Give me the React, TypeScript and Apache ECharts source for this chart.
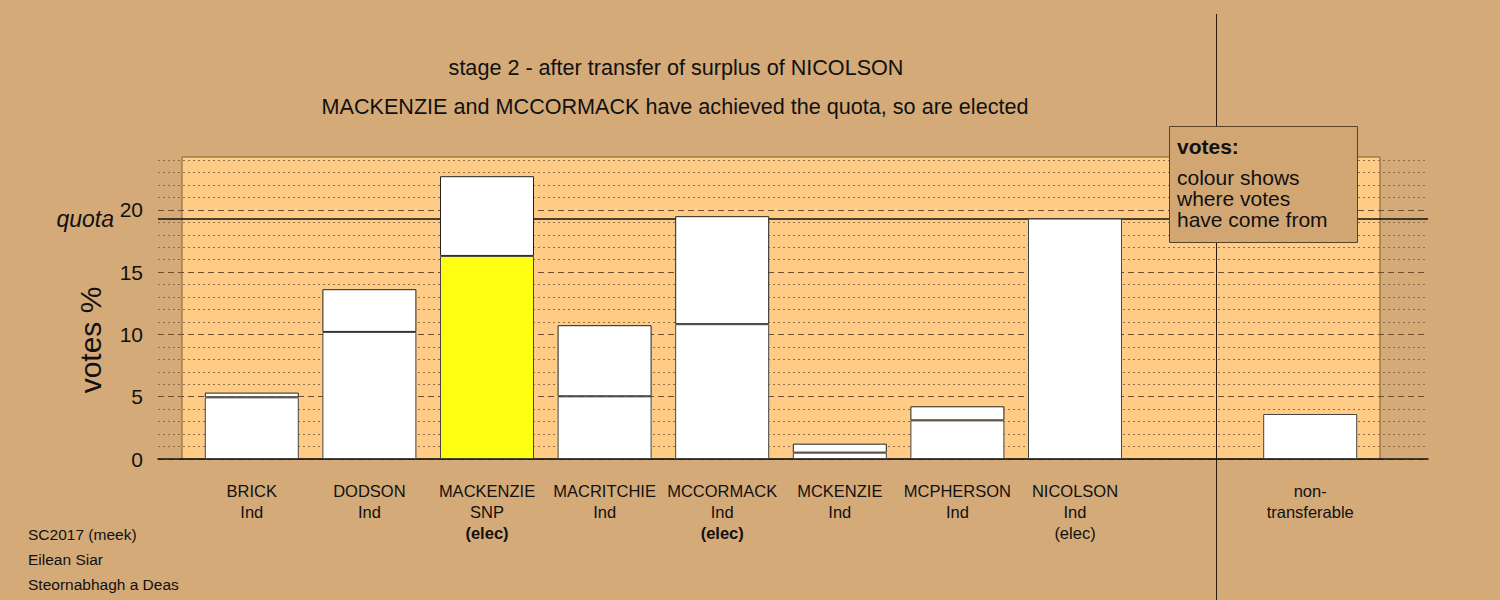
import React, { useEffect, useRef } from "react";
import * as echarts from "echarts";

// ---- data ----
const titleLine1 = "stage 2 - after transfer of surplus of NICOLSON";
const titleLine2 = "MACKENZIE and MCCORMACK have achieved the quota, so are elected";
const categories = [
  "BRICK",
  "DODSON",
  "MACKENZIE",
  "MACRITCHIE",
  "MCCORMACK",
  "MCKENZIE",
  "MCPHERSON",
  "NICOLSON",
  "",
  "non-\ntransferable",
];
const parties = ["Ind", "Ind", "SNP", "Ind", "Ind", "Ind", "Ind", "Ind", "", ""];
const statusText = ["", "", "(elec)", "", "(elec)", "", "", "(elec)", "", ""];
const electedThisStage = [false, false, true, false, true, false, false, false, false, false];
// votes held before this stage (lower segment)
const earlierVotes = [4.95, 10.2, 16.3, 5.03, 10.82, 0.51, 3.1, 19.3, null, 3.61];
// votes received at this stage (upper segment)
const transferredVotes = [0.38, 3.43, 6.4, 5.71, 8.67, 0.72, 1.13, null, null, null];
const earlierColours = ["#ffffff", "#ffffff", "#ffff11", "#ffffff", "#ffffff", "#ffffff", "#ffffff", "#ffffff", "#ffffff", "#ffffff"];
const quota = 19.3;
const yTickLabels = ["0", "5", "10", "15", "20"];
const yAxisTitle = "votes %";
const footnotes = ["SC2017 (meek)", "Eilean Siar", "Steornabhagh a Deas"];
const legendTitle = "votes:";
const legendBody = "colour shows\nwhere votes\nhave come from";

const FONT = "'Liberation Sans', Arial, Helvetica, sans-serif";
const BG = "#d4aa78";

export default function App() {
  const ref = useRef<HTMLDivElement>(null);

  useEffect(() => {
    document.body.style.margin = "0";
    if (!ref.current) return;
    const chart = echarts.init(ref.current, undefined, { renderer: "svg" });

    const option: any = {
      animation: false,
      backgroundColor: BG,
      textStyle: { fontFamily: FONT },
      title: [
        {
          text: titleLine1,
          left: 671,
          top: 51,
          textAlign: "center",
          textStyle: { fontFamily: FONT, fontSize: 21.6, fontWeight: "normal", color: "#111" },
        },
        {
          text: titleLine2,
          left: 670,
          top: 90,
          textAlign: "center",
          textStyle: { fontFamily: FONT, fontSize: 21.6, fontWeight: "normal", color: "#111" },
        },
      ],
      grid: [
        {
          // orange plot background
          left: 182,
          right: 120,
          top: 157,
          bottom: 141,
          show: true,
          backgroundColor: "#ffcc88",
          borderColor: "#7a5c38",
          borderWidth: 1,
        },
        {
          // grid lines + y axis
          left: 158,
          right: 72,
          top: 160,
          bottom: 141,
        },
        {
          // bars
          left: 193,
          right: 131,
          top: 160,
          bottom: 141,
        },
      ],
      xAxis: [
        { gridIndex: 0, type: "value", min: 0, max: 1, show: false },
        {
          gridIndex: 1,
          type: "value",
          min: 0,
          max: 1,
          axisLine: { show: true, onZero: false, lineStyle: { color: "#111", width: 1.5 } },
          axisTick: { show: false },
          axisLabel: { show: false },
          splitLine: { show: false },
        },
        {
          gridIndex: 2,
          type: "category",
          data: categories,
          axisLine: { show: false },
          axisTick: { show: false },
          splitLine: { show: false },
          axisLabel: {
            interval: 0,
            margin: 21,
            formatter: (value: string, index: number) => {
              const lines = value ? value.split("\n").map((s) => `{n|${s}}`) : [];
              if (parties[index]) lines.push(`{n|${parties[index]}}`);
              if (statusText[index]) lines.push(electedThisStage[index] ? `{b|${statusText[index]}}` : `{n|${statusText[index]}}`);
              return lines.join("\n");
            },
            rich: {
              n: { fontFamily: FONT, fontSize: 16.5, lineHeight: 21, color: "#111" },
              b: { fontFamily: FONT, fontSize: 16.5, lineHeight: 21, color: "#111", fontWeight: "bold" },
            },
          },
        },
      ],
      yAxis: [
        { gridIndex: 0, type: "value", min: 0, max: 1, show: false },
        {
          // dotted unit lines
          gridIndex: 1,
          type: "value",
          position: "left",
          min: 0,
          max: 24,
          interval: 1,
          axisLine: { show: false },
          axisTick: { show: false },
          axisLabel: { show: false },
          splitLine: {
            show: true,
            lineStyle: {
              color: ["rgba(0,0,0,0)", "#8f6d47", "#8f6d47", "#8f6d47", "#8f6d47"],
              type: [2, 3],
              width: 1,
            },
          },
        },
        {
          // dashed 5-unit lines with labels
          gridIndex: 1,
          type: "value",
          position: "left",
          min: 0,
          max: 24,
          interval: 5,
          axisLine: { show: false },
          axisTick: { show: false },
          axisLabel: {
            margin: 15,
            fontFamily: FONT,
            fontSize: 21,
            color: "#111",
            formatter: (v: number) => (yTickLabels.includes(String(v)) ? String(v) : ""),
          },
          splitLine: {
            show: true,
            lineStyle: {
              color: ["#6e4e2c", "#6e4e2c", "#6e4e2c", "#6e4e2c", "#6e4e2c", "rgba(0,0,0,0)"],
              type: [6, 4],
              width: 1.2,
            },
          },
        },
        { gridIndex: 2, type: "value", min: 0, max: 24, show: false },
      ],
      series: [
        {
          type: "line",
          xAxisIndex: 1,
          yAxisIndex: 2,
          data: [],
          silent: true,
          z: 1,
          markLine: {
            silent: true,
            z: 1,
            symbol: ["none", "none"],
            lineStyle: { color: "#111", type: "solid", width: 1.5 },
            label: {
              show: true,
              position: "start",
              distance: 44,
              formatter: "quota",
              fontFamily: FONT,
              fontSize: 23,
              fontStyle: "italic",
              color: "#111",
            },
            data: [{ yAxis: quota }],
          },
        },
        {
          name: "earlier",
          type: "bar",
          xAxisIndex: 2,
          yAxisIndex: 3,
          stack: "votes",
          barWidth: 94,
          z: 5,
          data: earlierVotes.map((v, i) => ({
            value: v,
            itemStyle: { color: earlierColours[i] },
          })),
          itemStyle: { borderColor: "#444", borderWidth: 1 },
        },
        {
          name: "transferred",
          type: "bar",
          xAxisIndex: 2,
          yAxisIndex: 3,
          stack: "votes",
          barWidth: 94,
          z: 5,
          data: transferredVotes,
          itemStyle: { color: "#ffffff", borderColor: "#222", borderWidth: 1 },
        },
      ],
      graphic: [
        {
          type: "text",
          silent: true,
          x: 90,
          y: 340,
          rotation: Math.PI / 2,
          style: {
            text: yAxisTitle,
            font: `30px ${FONT}`,
            fill: "#111",
            align: "center",
            verticalAlign: "middle",
          },
        },
        {
          type: "line",
          z: 50,
          silent: true,
          shape: { x1: 1216.5, y1: 14, x2: 1216.5, y2: 600 },
          style: { stroke: "#2b1b0b", lineWidth: 1 },
        },
        {
          type: "rect",
          z: 100,
          silent: true,
          shape: { x: 1169.5, y: 126.5, width: 188, height: 116 },
          style: { fill: "#d2a672", stroke: "#5a4026", lineWidth: 1 },
        },
        {
          type: "text",
          z: 101,
          silent: true,
          x: 1177,
          y: 146,
          style: { text: legendTitle, font: `bold 21px ${FONT}`, fill: "#111", verticalAlign: "middle" },
        },
        {
          type: "text",
          z: 101,
          silent: true,
          x: 1177,
          y: 167,
          style: { text: legendBody, font: `21px ${FONT}`, lineHeight: 21, fill: "#111" },
        },
        ...footnotes.map((t, i) => ({
          type: "text",
          x: 28,
          y: 534 + i * 25,
          silent: true,
          style: { text: t, font: `15.5px ${FONT}`, fill: "#111", verticalAlign: "middle" },
        })),
      ],
    };

    chart.setOption(option);
    return () => chart.dispose();
  }, []);

  return <div ref={ref} style={{ width: 1500, height: 600 }} />;
}
